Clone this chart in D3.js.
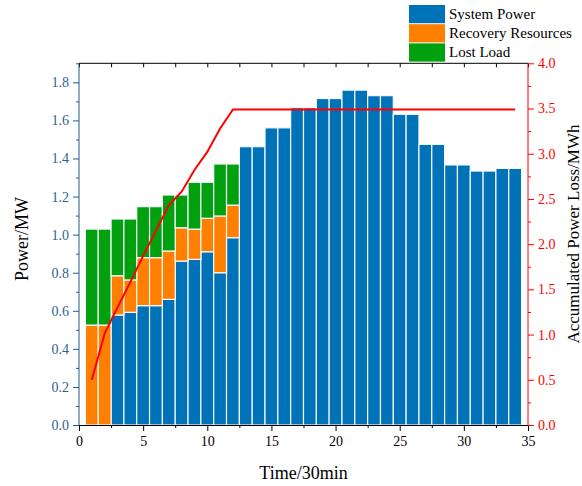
<!DOCTYPE html>
<html>
<head>
<meta charset="utf-8">
<script src="https://cdn.jsdelivr.net/npm/d3@7"></script>
<style>
  body { margin: 0; background: #fff; }
  text { font-family: "Liberation Serif", "Times New Roman", serif; }
</style>
</head>
<body>
<svg id="chart"></svg>
<script>
// Time slots (30 min each)
var time = d3.range(1, 35)
// Power values (MW)
var systemPower = [0, 0, 0.578, 0.592, 0.627, 0.627, 0.660, 0.861, 0.870, 0.910, 0.800, 0.984,
    1.462, 1.462, 1.561, 1.561, 1.667, 1.667, 1.715, 1.715, 1.759, 1.759, 1.730, 1.730,
    1.632, 1.632, 1.474, 1.474, 1.366, 1.366, 1.334, 1.334, 1.348, 1.348]
var recoveryResources = [0.525, 0.525, 0.206, 0.170, 0.252, 0.252, 0.254, 0.175, 0.159, 0.176, 0.298, 0.171,
    0, 0, 0, 0, 0, 0, 0, 0, 0, 0, 0, 0, 0, 0, 0, 0, 0, 0, 0, 0, 0, 0]
var lostLoad = [0.504, 0.504, 0.298, 0.320, 0.268, 0.268, 0.294, 0.172, 0.246, 0.189, 0.273, 0.216,
    0, 0, 0, 0, 0, 0, 0, 0, 0, 0, 0, 0, 0, 0, 0, 0, 0, 0, 0, 0, 0, 0]
// Accumulated power loss (MWh), right axis
var accLoss = [0.50, 1.01, 1.30, 1.58, 1.87, 2.15, 2.43, 2.58, 2.82, 3.02, 3.28, 3.49,
    3.49, 3.49, 3.49, 3.49, 3.49, 3.49, 3.49, 3.49, 3.49, 3.49, 3.49, 3.49,
    3.49, 3.49, 3.49, 3.49, 3.49, 3.49, 3.49, 3.49, 3.49, 3.49]

var seriesNames = ["System Power", "Recovery Resources", "Lost Load"]
var seriesColors = ["#0072b7", "#ff7f00", "#00a00f"]

var canvasSize = {width: 582, height: 486}
var margin = {top: 63.3, right: 54, bottom: 61, left: 79}
var width = canvasSize.width - margin.left - margin.right,
    height = canvasSize.height - margin.top - margin.bottom
var serif = '"Liberation Serif", "Times New Roman", serif'

var svg = d3.select("#chart")
    .attr("width", canvasSize.width)
    .attr("height", canvasSize.height)

var x = d3.scaleLinear().domain([0, 35]).range([0, width])
var y = d3.scaleLinear().domain([0, 1.9]).range([height, 0])
var y2 = d3.scaleLinear().domain([0, 4]).range([height, 0])

var table = time.map((t, i) => ({
    t: t,
    "System Power": systemPower[i],
    "Recovery Resources": recoveryResources[i],
    "Lost Load": lostLoad[i]
}))
var stacked = d3.stack().keys(seriesNames)(table)

var view = svg.append("g")
    .attr("transform", `translate(${margin.left},${margin.top})`)

// Stacked bars
var unit = x(1) - x(0)
view.selectAll("g.layer")
    .data(stacked)
    .enter().append("g")
        .attr("class", "layer")
        .attr("fill", (d, i) => seriesColors[i])
    .selectAll("rect")
    .data(d => d.filter(p => p[1] - p[0] > 0))
    .enter().append("rect")
        .attr("x", d => x(d.data.t) - unit / 2)
        .attr("width", unit)
        .attr("y", d => y(d[1]))
        .attr("height", d => y(d[0]) - y(d[1]))
        .attr("stroke", "#f4f8fb")
        .attr("stroke-width", 1.2)

// Accumulated loss line
var line = d3.line()
    .x((d, i) => x(time[i]))
    .y(d => y2(d))
view.append("path")
    .datum(accLoss)
    .attr("d", line)
    .attr("fill", "none")
    .attr("stroke", "#ff0000")
    .attr("stroke-width", 2)

// Axes
var fontSize = "14px"
var xAxis = d3.axisBottom(x).tickValues(d3.range(0, 36, 5)).tickSize(6).tickPadding(5)
var xMinor = d3.axisBottom(x).tickValues(d3.range(2.5, 35, 5)).tickSize(3).tickFormat("")
var xG = view.append("g").attr("transform", `translate(0,${height})`).call(xAxis)
view.append("g").attr("transform", `translate(0,${height})`).call(xMinor)
    .select(".domain").remove()
xG.selectAll("text").style("font-family", serif).style("font-size", fontSize).attr("fill", "#000")

// Top frame with inward ticks
var xTop = d3.axisBottom(x).tickValues(d3.range(0, 35.1, 2.5)).tickSize(4).tickFormat("")
view.append("g").call(xTop).select(".domain").attr("d", `M0,0H${width}`)

var leftColor = "#1d5b8c"
var yAxis = d3.axisLeft(y).tickValues(d3.range(0, 1.81, 0.2)).tickSize(6).tickPadding(4)
    .tickFormat(d3.format(".1f"))
var yMinor = d3.axisLeft(y).tickValues(d3.range(0.1, 1.91, 0.2)).tickSize(3).tickFormat("")
var yG = view.append("g").call(yAxis)
var ym = view.append("g").call(yMinor)
ym.select(".domain").remove()
ym.selectAll("line").attr("stroke", leftColor)
yG.select(".domain").attr("stroke", leftColor).attr("d", `M0,${height}V0`)
yG.selectAll("line").attr("stroke", leftColor)
yG.selectAll("text").style("font-family", serif).style("font-size", fontSize).attr("fill", "#2a6496")

var rightColor = "#ff0000"
var y2Axis = d3.axisRight(y2).tickValues(d3.range(0, 4.01, 0.5)).tickSize(6).tickPadding(4)
    .tickFormat(d3.format(".1f"))
var y2Minor = d3.axisRight(y2).tickValues(d3.range(0.25, 4, 0.5)).tickSize(3).tickFormat("")
var y2G = view.append("g").attr("transform", `translate(${width},0)`).call(y2Axis)
var y2m = view.append("g").attr("transform", `translate(${width},0)`).call(y2Minor)
y2m.select(".domain").remove()
y2m.selectAll("line").attr("stroke", rightColor)
y2G.select(".domain").attr("stroke", rightColor).attr("d", `M0,${height}V0`)
y2G.selectAll("line").attr("stroke", rightColor)
y2G.selectAll("text").style("font-family", serif).style("font-size", fontSize).attr("fill", rightColor)

// Axis titles
svg.append("text")
    .attr("x", margin.left + width / 2)
    .attr("y", 479)
    .attr("text-anchor", "middle")
    .style("font-size", "18px")
    .text("Time/30min")

svg.append("text")
    .attr("transform", "translate(28,239) rotate(-90)")
    .attr("text-anchor", "middle")
    .style("font-size", "18px")
    .text("Power/MW")

svg.append("text")
    .attr("transform", "translate(579,234) rotate(-90)")
    .attr("text-anchor", "middle")
    .style("font-size", "17px")
    .text("Accumulated Power Loss/MWh")

// Legend
var legend = svg.append("g").attr("transform", "translate(409,5)")
seriesNames.forEach((name, i) => {
    legend.append("rect")
        .attr("x", 0).attr("y", i * 19.2)
        .attr("width", 36).attr("height", 18.2)
        .attr("fill", seriesColors[i])
    legend.append("text")
        .attr("x", 40).attr("y", i * 19.2 + 14)
        .style("font-size", "15px")
        .text(name)
})
</script>
</body>
</html>
